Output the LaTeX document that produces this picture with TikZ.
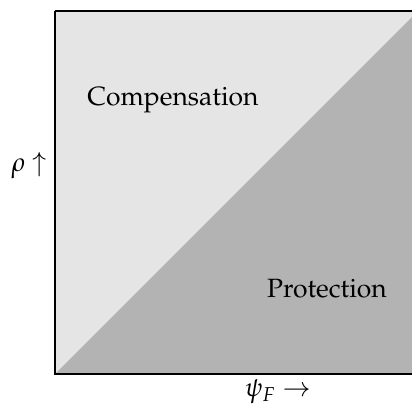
\documentclass[tikz,border=0pt]{standalone}
\usepackage[T1]{fontenc}
\usepackage{mathpazo}
\usepackage{tikz}
\definecolor{RegionLight}{HTML}{E5E5E5}
\definecolor{RegionDark}{HTML}{B3B3B3}

\begin{document}
\begin{tikzpicture}[x=0.378pt, y=-0.378pt, every node/.style={font=\normalsize}]
		\useasboundingbox (0,0) rectangle (412,406);
		\coordinate (sw) at (55,374);
		\coordinate (ne) at (418,11);
		\fill[RegionLight] (sw) rectangle (ne);
		\fill[RegionDark] (sw) -- (ne) |- cycle;
		\draw[line width=0.7pt] (sw |- ne) -- (sw) -- (ne |- sw);
		\draw[line width=0.7pt] (sw |- ne) -- (ne);
		\node (comp) at (173,100) {Compensation};
		\node (prot) at (327,289) {Protection};
		\node (rho) at (29,166) {$\rho$ $\uparrow$};
		\node (psi) at (278,392) {$\psi_F$ $\rightarrow$};
	\end{tikzpicture}
\end{document}
